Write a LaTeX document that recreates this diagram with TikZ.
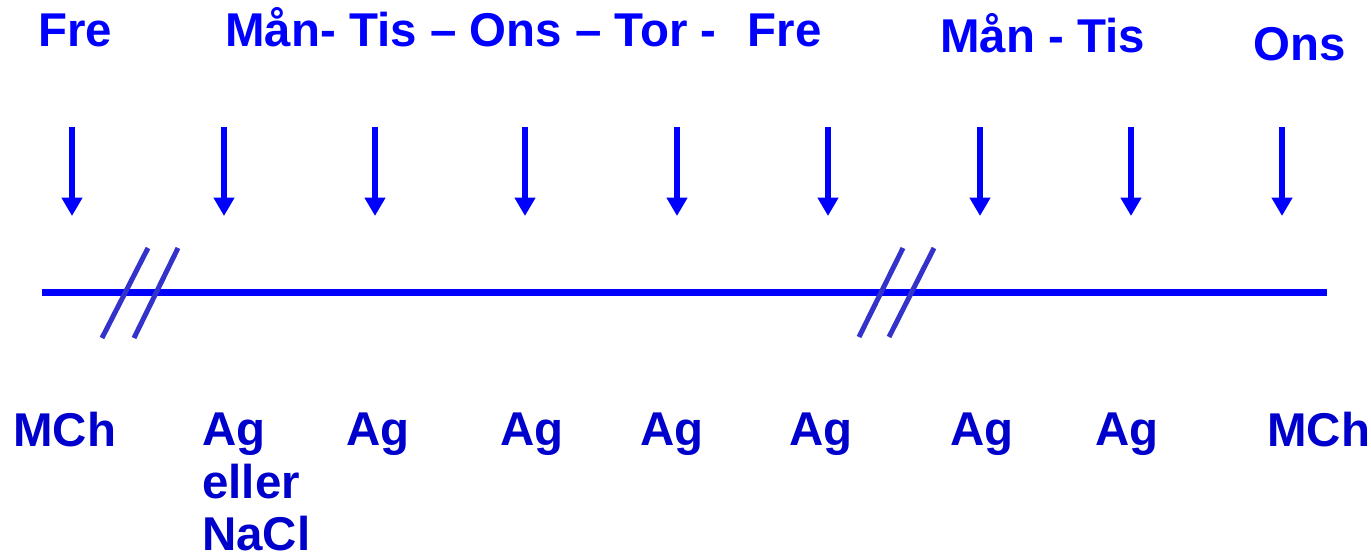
\documentclass[tikz,border=0pt]{standalone}
\usepackage{fontspec}
\setmainfont{Liberation Sans}
\usetikzlibrary{arrows.meta}
\definecolor{dayblue}{RGB}{0,0,255}
\definecolor{drugblue}{RGB}{0,0,204}
\definecolor{breakblue}{RGB}{51,51,204}

\begin{document}
\begin{tikzpicture}[x=0.02cm,y=-0.02cm,
    day/.style={anchor=base west,inner sep=0pt,text=dayblue,
                font=\fontsize{27}{32}\selectfont\bfseries},
    drug/.style={day,text=drugblue},
    dose arrow/.style={dayblue,line width=0.11cm,
                -{Triangle[width=0.4cm,length=0.37cm]}},
    breakmark/.style={breakblue,line width=0.1cm}]

  \useasboundingbox (0,0) rectangle (1371,558);

  % days
  \node[day] (fre1) at (38,46) {Fre};
  \node[day] (week1) at (225,46) {Mån- Tis – Ons – Tor -~~\hspace{0.1cm}Fre};
  \node[day] (week2) at (940,52) {Mån - Tis};
  \node[day] (ons) at (1253,60) {Ons};

  % doses
  \foreach \x [count=\i] in {72,224,375,525,677,828,980,1131,1282} {
    \coordinate (top\i) at (\x,127);
    \coordinate (tip\i) at (\x,216);
    \draw[dose arrow] (top\i) -- (tip\i);
  }

  % time line
  \coordinate (start) at (42,292);
  \coordinate (end) at (1327,292);
  \draw[dayblue,line width=0.14cm] (start) -- (end);

  % breaks
  \draw[breakmark] (102,338) -- (148,248);
  \draw[breakmark] (134,338) -- (178,248);
  \draw[breakmark] (859,337) -- (903,248);
  \draw[breakmark] (889,337) -- (934,248);

  % substances
  \node[drug] (mch1) at (13,446) {MCh};
  \node[drug] (ag1) at (202,445) {Ag};
  \node[drug] (eller) at (202,498) {eller};
  \node[drug] (nacl) at (202,550) {NaCl};
  \node[drug] (ag2) at (346,445) {Ag};
  \node[drug] (ag3) at (500,445) {Ag};
  \node[drug] (ag4) at (640,445) {Ag};
  \node[drug] (ag5) at (789,445) {Ag};
  \node[drug] (ag6) at (950,445) {Ag};
  \node[drug] (ag7) at (1095,445) {Ag};
  \node[drug] (mch2) at (1267,446) {MCh};
\end{tikzpicture}
\end{document}
